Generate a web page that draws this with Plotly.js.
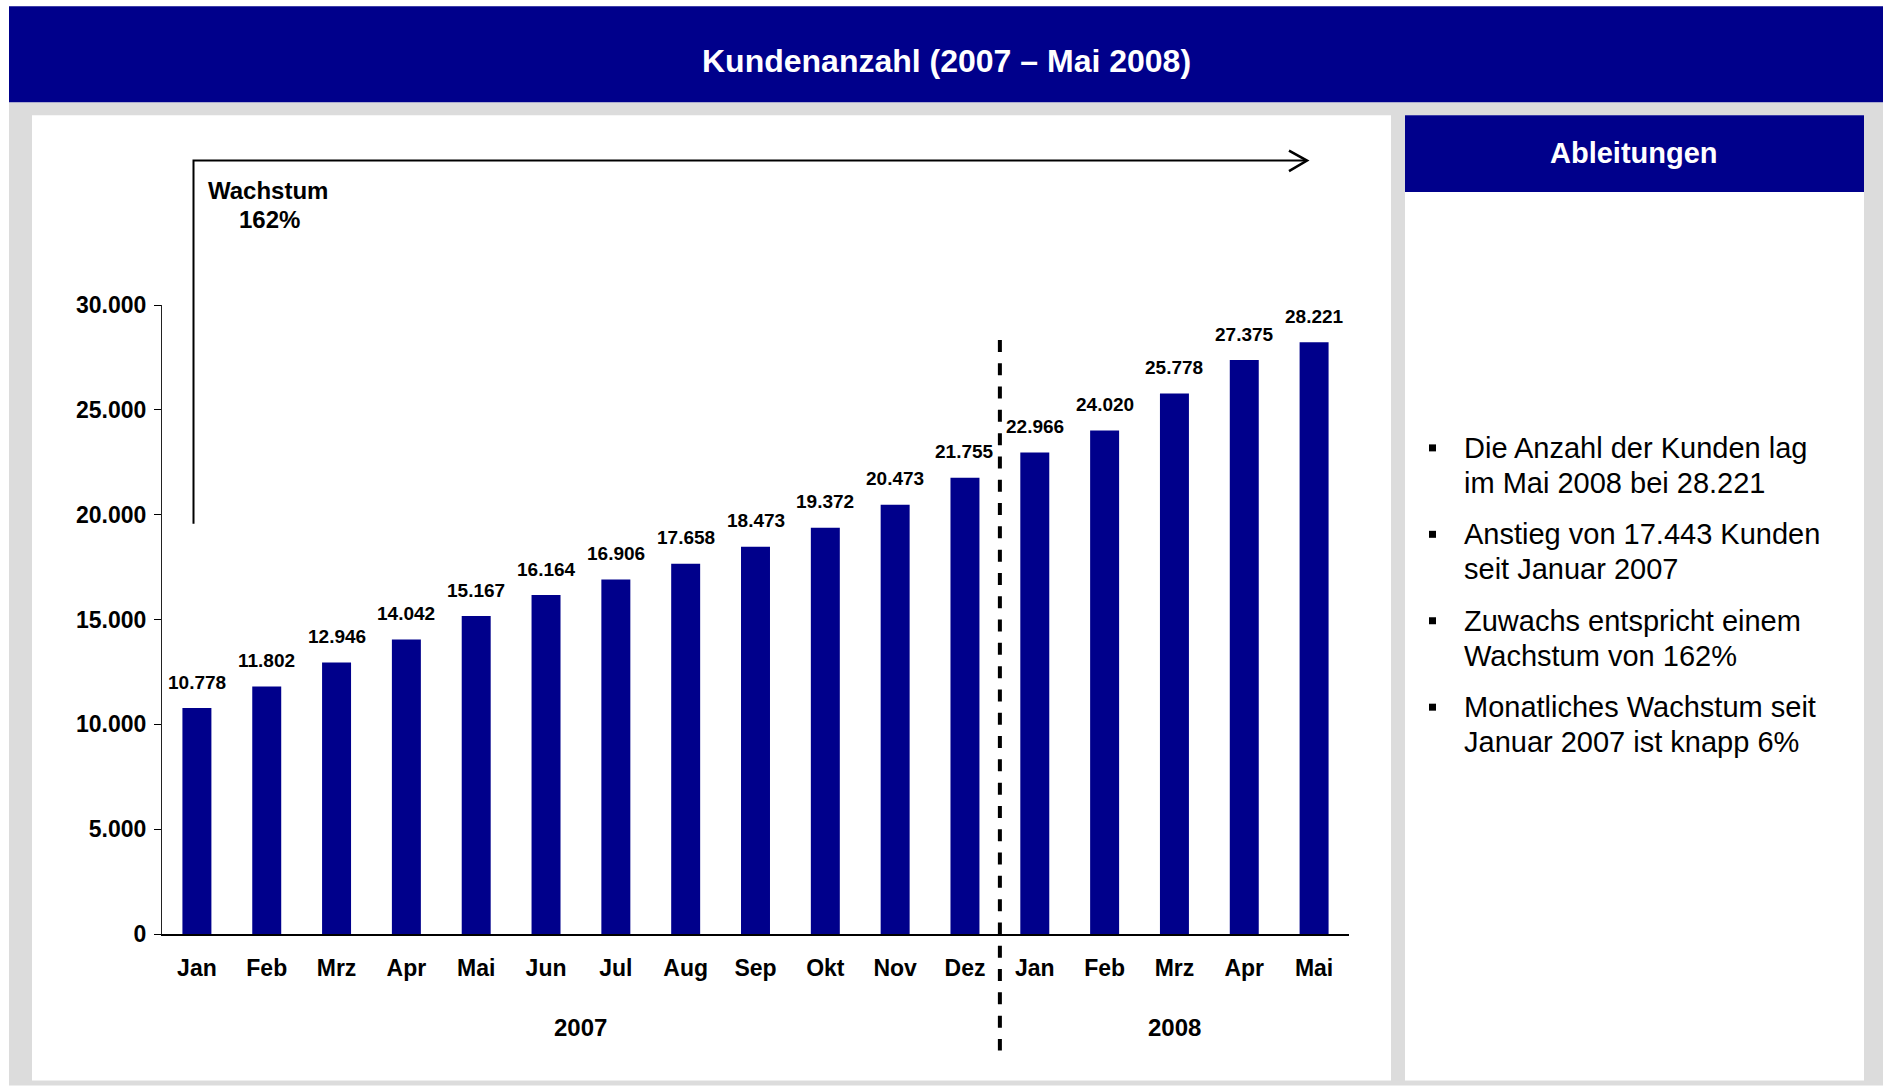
<!DOCTYPE html>
<html>
<head>
<meta charset="utf-8">
<script src="https://cdn.plot.ly/plotly-3.0.1.min.js"></script>
<style>
html,body{margin:0;padding:0;background:#fff;}
#chart{width:1883px;height:1086px;}
</style>
</head>
<body>
<div id="chart"></div>
<script>
// ---- data ----
const months = ["Jan","Feb","Mrz","Apr","Mai","Jun","Jul","Aug","Sep","Okt","Nov","Dez","Jan","Feb","Mrz","Apr","Mai"];
const years = ["2007","2008"];
const monthsPerYear = [12, 5];
const customers = [10778,11802,12946,14042,15167,16164,16906,17658,18473,19372,20473,21755,22966,24020,25778,27375,28221];
const yTicks = [0,5000,10000,15000,20000,25000,30000];
const chartTitle = "Kundenanzahl (2007 – Mai 2008)";
const sideTitle = "Ableitungen";
const growthLabel = ["Wachstum","162%"];
const bullets = [
  ["Die Anzahl der Kunden lag","im Mai 2008 bei 28.221"],
  ["Anstieg von 17.443 Kunden","seit Januar 2007"],
  ["Zuwachs entspricht einem","Wachstum von 162%"],
  ["Monatliches Wachstum seit","Januar 2007 ist knapp 6%"]
];

// ---- layout geometry (pixels) ----
const FW = 1883, FH = 1086;
const L = 162, R = 1349, T = 305, B = 934.5;
const px = x => (x - L) / (R - L);
const py = y => (B - y) / (B - T);
const NAVY = "#00008B";
const GREY = "#DCDCDC";
const FONT = "Liberation Sans, Arial, sans-serif";

const idx = months.map((m, i) => i);
const xmin = -0.5, xmax = months.length - 0.5;
const fmt = v => String(v).replace(/\B(?=(\d{3})+(?!\d))/g, ".");

const shapes = [];
function rect(x0, y0, x1, y1, color) {
  shapes.push({type: "rect", xref: "paper", yref: "paper", layer: "below",
    x0: px(x0), x1: px(x1), y0: py(y1), y1: py(y0),
    fillcolor: color, line: {width: 0}});
}
rect(9, 102, FW, FH, GREY);
rect(9, 6, FW, 102, NAVY);
rect(32, 115, 1391, 1081, "#FFFFFF");
rect(1405, 115, 1864, 1081, "#FFFFFF");
rect(1405, 115, 1864, 192, NAVY);

// bullet squares
bullets.forEach((b, i) => {
  const cy = 448 + i * 86.5;
  rect(1429, cy - 3.5, 1436, cy + 3.5, "#000000");
});

// year divider (between Dez 2007 and Jan 2008)
const divX = (monthsPerYear[0] - 0.5 - xmin) / (xmax - xmin);
shapes.push({type: "line", xref: "paper", yref: "paper", layer: "above",
  x0: divX, x1: divX, y0: py(340), y1: py(1051),
  line: {color: "#000", width: 4, dash: "12px,11.3px"}});

// growth arrow
const P = (x, y) => px(x) + "," + py(y);
shapes.push({type: "path", xref: "paper", yref: "paper", layer: "above",
  path: "M" + P(193.5, 524) + " L" + P(193.5, 160.5) + " L" + P(1307, 160.5),
  line: {color: "#000", width: 2}});
shapes.push({type: "path", xref: "paper", yref: "paper", layer: "above",
  path: "M" + P(1289, 150.5) + " L" + P(1307, 160.5) + " L" + P(1289, 171),
  line: {color: "#000", width: 2.5}});

const annotations = [];
function txt(text, x, y, size, opts) {
  annotations.push(Object.assign({xref: "paper", yref: "paper", x: px(x), y: py(y),
    text: text, showarrow: false, xanchor: "center", yanchor: "middle",
    font: {family: FONT, size: size, color: "#000"}}, opts || {}));
}
txt("<b>" + chartTitle + "</b>", 946, 61, 32, {font: {family: FONT, size: 32, color: "#fff"}});
txt("<b>" + sideTitle + "</b>", 1634, 153, 29, {font: {family: FONT, size: 29, color: "#fff"}});
txt("<b>" + growthLabel[0] + "</b>", 268, 190, 24);
txt("<b>" + growthLabel[1] + "</b>", 269, 219, 24);

bullets.forEach((b, i) => {
  b.forEach((line, j) => {
    txt(line, 1462, 448 + i * 86.5 + j * 35, 29, {xanchor: "left"});
  });
});

// value labels above bars
customers.forEach((v, i) => {
  annotations.push({xref: "x", yref: "y", x: idx[i], y: v, yshift: 26,
    text: "<b>" + fmt(v) + "</b>", showarrow: false, xanchor: "center", yanchor: "middle",
    font: {family: FONT, size: 19, color: "#000"}});
});

// year labels centred below each group
let start = 0;
years.forEach((yr, k) => {
  const n = monthsPerYear[k];
  const mid = start + (n - 1) / 2;
  annotations.push({xref: "x", yref: "paper", x: mid, y: py(1028),
    text: "<b>" + yr + "</b>", showarrow: false, xanchor: "center", yanchor: "middle",
    font: {family: FONT, size: 24, color: "#000"}});
  start += n;
});

const data = [{
  type: "bar", x: idx, y: customers,
  marker: {color: NAVY, line: {width: 0}},
  hoverinfo: "skip"
}];

const layout = {
  width: FW, height: FH,
  margin: {l: L, r: FW - R, t: T, b: FH - B, pad: 0},
  paper_bgcolor: "#FFFFFF",
  plot_bgcolor: "rgba(0,0,0,0)",
  separators: ",.",
  showlegend: false,
  bargap: 0.585,
  font: {family: FONT, color: "#000"},
  xaxis: {
    range: [xmin, xmax], tickmode: "array", tickvals: idx, ticktext: months,
    showline: true, linewidth: 2, linecolor: "#000", ticks: "",
    showgrid: false, zeroline: false, fixedrange: true,
    tickfont: {family: FONT, size: 23, color: "#000", weight: "bold"},
    ticklabelstandoff: 12
  },
  yaxis: {
    range: [0, 30000], tickmode: "array", tickvals: yTicks, tickformat: ",d",
    showline: true, linewidth: 1, linecolor: "#222", ticks: "outside", ticklen: 7,
    tickwidth: 1, tickcolor: "#000", showgrid: false, zeroline: false, fixedrange: true,
    tickfont: {family: FONT, size: 23, color: "#000", weight: "bold"},
    ticklabelstandoff: 3
  },
  shapes: shapes,
  annotations: annotations
};

Plotly.newPlot("chart", data, layout, {staticPlot: true, displayModeBar: false});
</script>
</body>
</html>
